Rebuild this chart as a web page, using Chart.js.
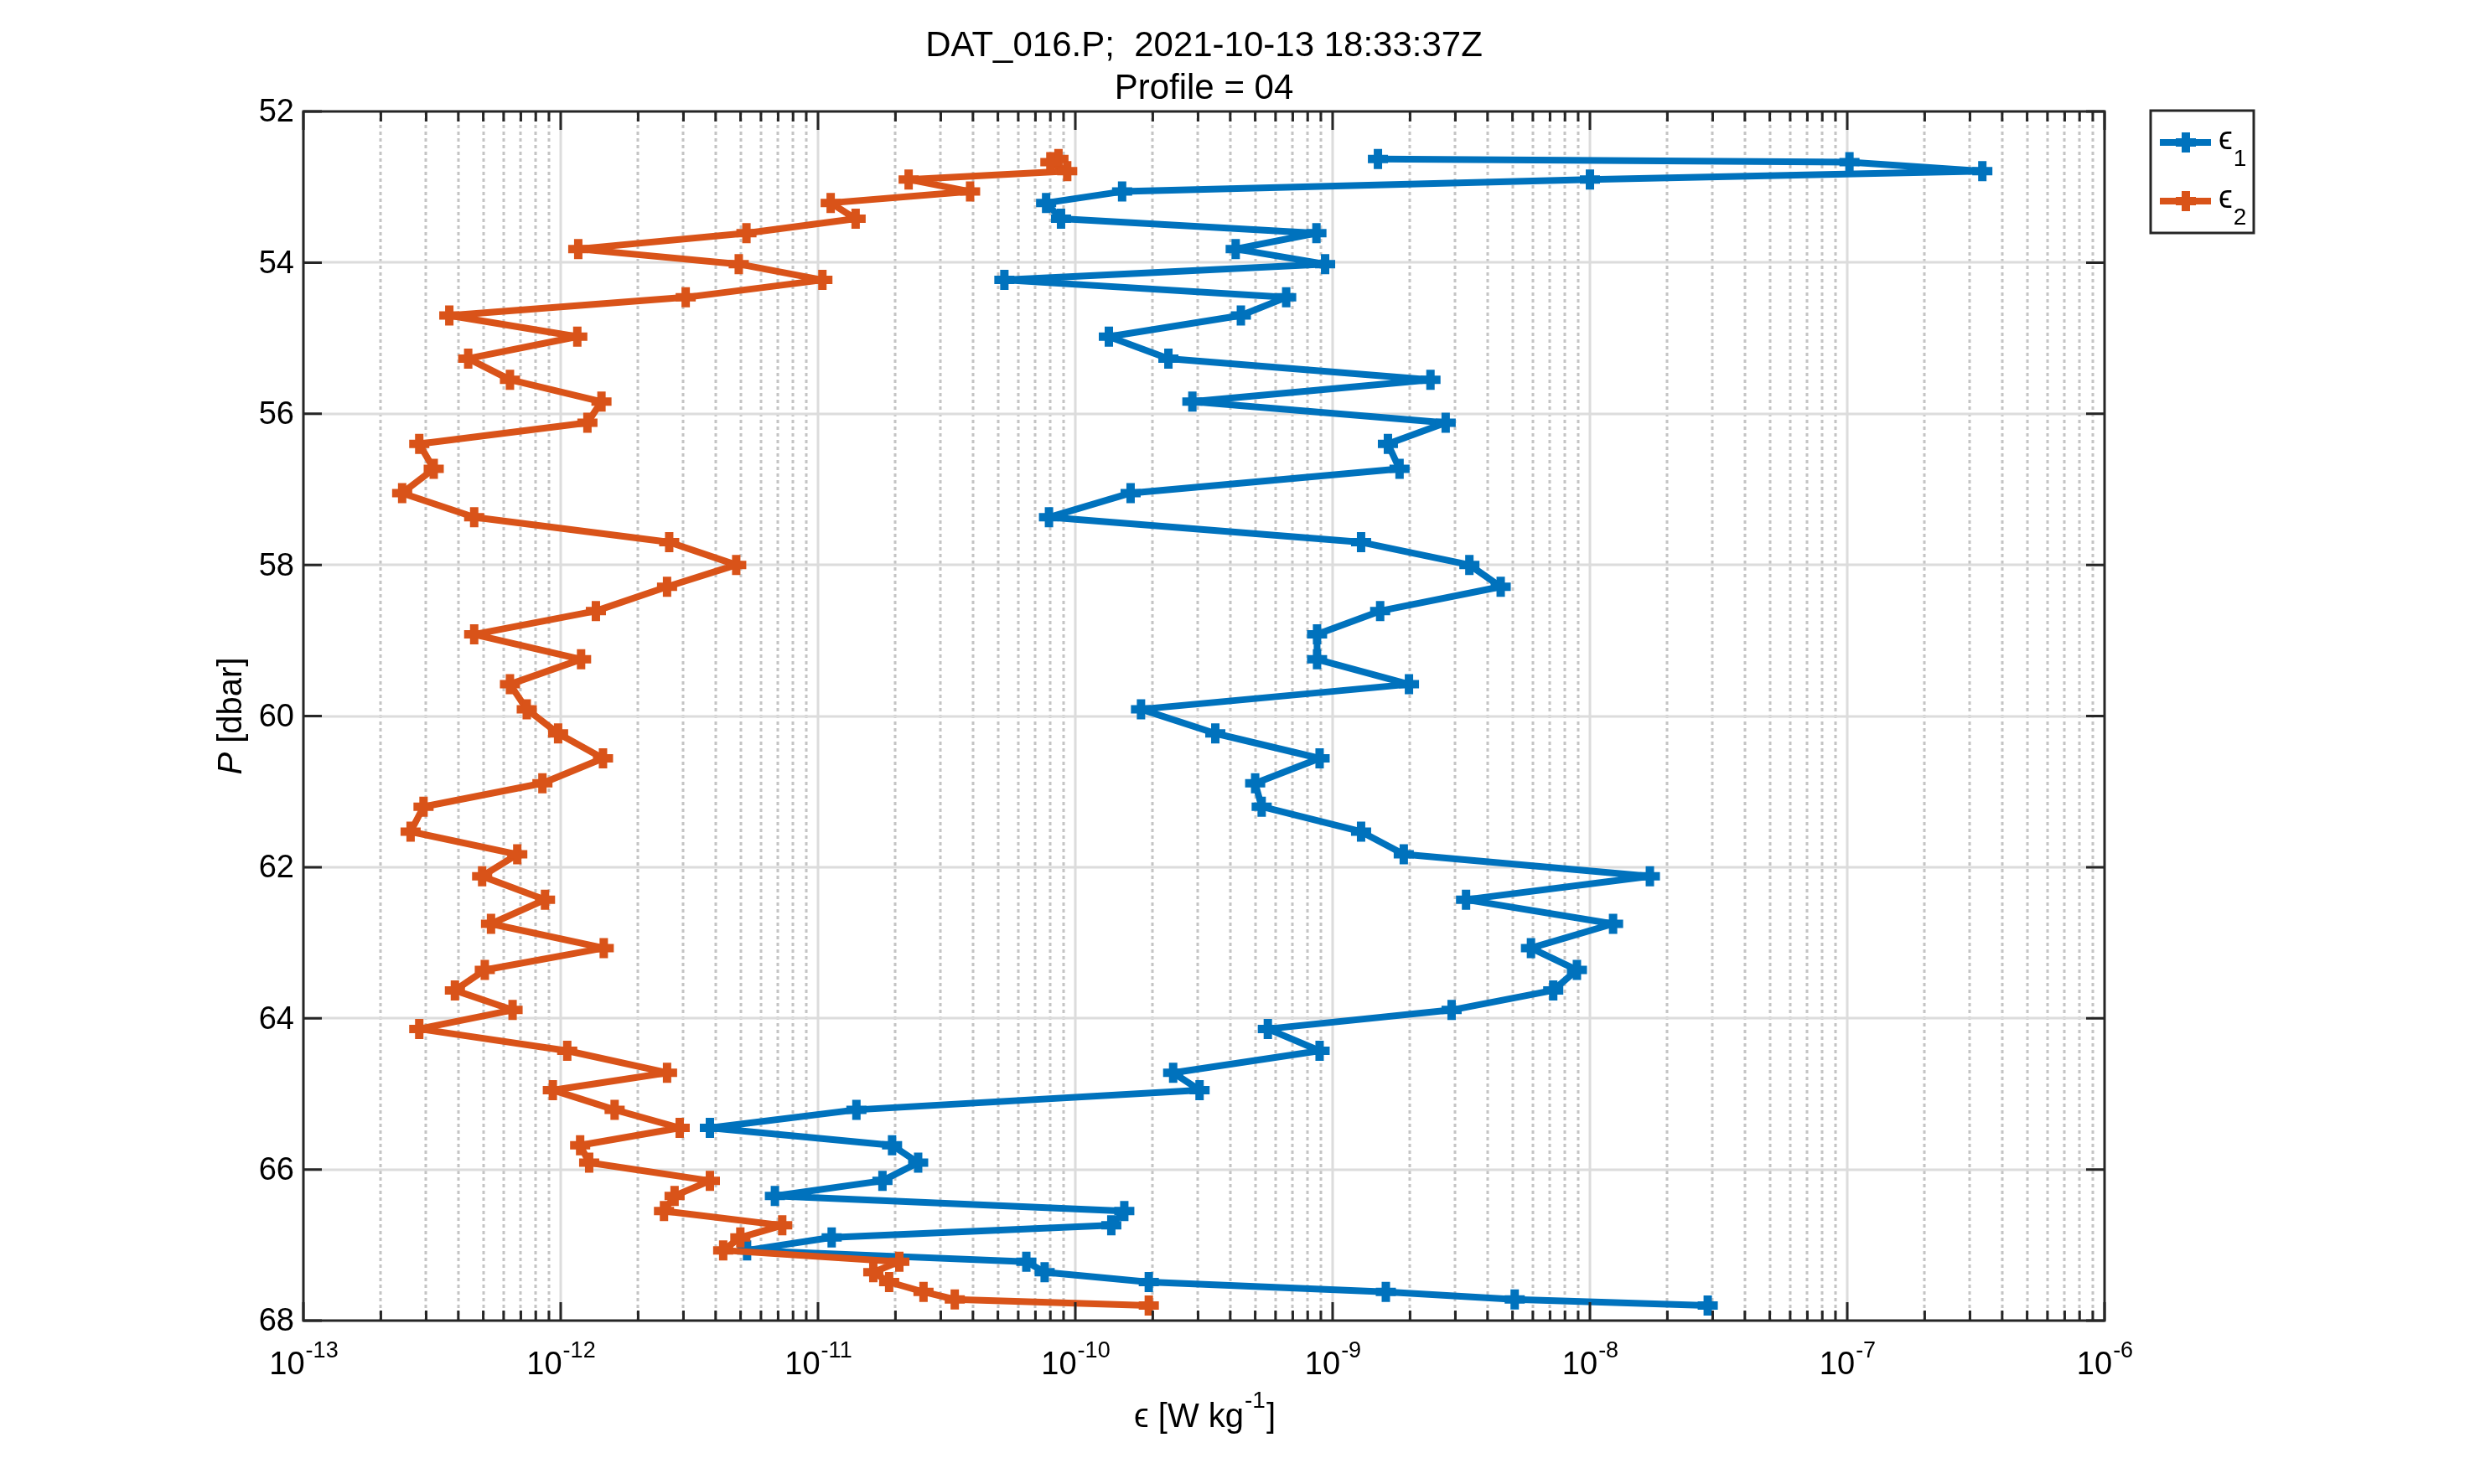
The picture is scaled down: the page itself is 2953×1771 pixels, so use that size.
<!DOCTYPE html>
<html><head><meta charset="utf-8">
<script src="https://cdn.jsdelivr.net/npm/chart.js@4.4.1/dist/chart.umd.min.js"></script>
<style>html,body{margin:0;padding:0;background:#fff;overflow:hidden}#wrap{width:2953px;height:1771px;position:relative}</style>
</head><body><div id="wrap"><canvas id="c" width="2953" height="1771"></canvas></div>
<script>
const pressure = [52.63,52.67,52.79,52.90,53.06,53.21,53.42,53.61,53.82,54.02,
  54.23,54.46,54.70,54.98,55.27,55.55,55.84,56.12,56.40,56.73,
  57.05,57.37,57.70,58.00,58.29,58.61,58.92,59.25,59.58,59.91,
  60.23,60.56,60.89,61.20,61.53,61.83,62.12,62.43,62.75,63.07,
  63.36,63.63,63.89,64.14,64.43,64.72,64.95,65.21,65.45,65.68,
  65.91,66.15,66.35,66.55,66.74,66.90,67.07,67.22,67.36,67.49,
  67.62,67.72,67.80];
const eps1 = [1.5e-9,1.02e-7,3.35e-7,1.0e-8,1.52e-10,7.7e-11,8.8e-11,8.65e-10,4.2e-10,9.35e-10,
  5.3e-11,6.6e-10,4.4e-10,1.35e-10,2.3e-10,2.4e-9,2.85e-10,2.75e-9,1.64e-9,1.82e-9,
  1.64e-10,7.9e-11,1.29e-9,3.4e-9,4.5e-9,1.53e-9,8.7e-10,8.7e-10,1.98e-9,1.8e-10,
  3.5e-10,8.9e-10,5.0e-10,5.3e-10,1.29e-9,1.89e-9,1.71e-8,3.3e-9,1.23e-8,5.9e-9,
  8.9e-9,7.2e-9,2.9e-9,5.6e-10,8.9e-10,2.4e-10,3.04e-10,1.41e-11,3.8e-12,1.94e-11,
  2.45e-11,1.78e-11,6.8e-12,1.55e-10,1.38e-10,1.13e-11,5.3e-12,6.45e-11,7.6e-11,1.93e-10,
  1.61e-9,5.1e-9,2.87e-8];
const eps2 = [8.6e-11,8.0e-11,9.3e-11,2.25e-11,3.9e-11,1.12e-11,1.40e-11,5.27e-12,1.17e-12,4.92e-12,
  1.04e-11,3.06e-12,3.69e-13,1.16e-12,4.37e-13,6.35e-13,1.44e-12,1.27e-12,2.82e-13,3.21e-13,
  2.42e-13,4.61e-13,2.64e-12,4.81e-12,2.59e-12,1.37e-12,4.61e-13,1.20e-12,6.35e-13,7.38e-13,
  9.77e-13,1.46e-12,8.49e-13,2.93e-13,2.61e-13,6.78e-13,4.95e-13,8.69e-13,5.36e-13,1.47e-12,
  5.07e-13,3.88e-13,6.50e-13,2.82e-13,1.06e-12,2.59e-12,9.32e-13,1.62e-12,2.90e-12,1.19e-12,
  1.29e-12,3.80e-12,2.77e-12,2.52e-12,7.26e-12,4.99e-12,4.28e-12,2.07e-11,1.64e-11,1.89e-11,
  2.57e-11,3.40e-11,1.93e-10];
const xTickExponents = [-13,-12,-11,-10,-9,-8,-7,-6];
const yTicks = [52,54,56,58,60,62,64,66,68];
const titleLines = ['DAT_016.P;  2021-10-13 18:33:37Z', 'Profile = 04'];
const seriesSymbol = '\u03F5';
const seriesSubscripts = ['1', '2'];
const seriesColors = ['#0072BD', '#D95319'];
const xLabelMain = '\u03F5 [W kg';
const xLabelSup = '-1';
const xLabelEnd = ']';
const yLabelItalic = 'P';
const yLabelRest = ' [dbar]';

const FONT = '"Liberation Sans", Arial, Helvetica, "DejaVu Sans", sans-serif';
const AX = '#262626';

function drawCross(ctx, x, y, r, w, color) {
  ctx.save(); ctx.strokeStyle = color; ctx.lineWidth = w; ctx.lineCap = 'butt';
  ctx.beginPath(); ctx.moveTo(x - r, y); ctx.lineTo(x + r, y); ctx.moveTo(x, y - r); ctx.lineTo(x, y + r); ctx.stroke();
  ctx.restore();
}

const gridPlugin = {
  id: 'matlabGrid',
  beforeDatasetsDraw(chart) {
    const ctx = chart.ctx, a = chart.chartArea, xs = chart.scales.x, ys = chart.scales.y;
    ctx.save();
    ctx.lineWidth = 3;
    ctx.strokeStyle = '#c4c4c4';
    ctx.setLineDash([4, 4]);
    for (let i = 0; i < xTickExponents.length - 1; i++) {
      for (let m = 2; m <= 9; m++) {
        const x = Math.round(xs.getPixelForValue(m * Math.pow(10, xTickExponents[i])));
        ctx.beginPath(); ctx.moveTo(x, a.top); ctx.lineTo(x, a.bottom); ctx.stroke();
      }
    }
    ctx.setLineDash([]);
    ctx.strokeStyle = '#dcdcdc';
    for (let i = 1; i < xTickExponents.length - 1; i++) {
      const x = Math.round(xs.getPixelForValue(Math.pow(10, xTickExponents[i])));
      ctx.beginPath(); ctx.moveTo(x, a.top); ctx.lineTo(x, a.bottom); ctx.stroke();
    }
    for (let i = 1; i < yTicks.length - 1; i++) {
      const y = Math.round(ys.getPixelForValue(yTicks[i]));
      ctx.beginPath(); ctx.moveTo(a.left, y); ctx.lineTo(a.right, y); ctx.stroke();
    }
    ctx.restore();
  },
  afterDatasetsDraw(chart) {
    const ctx = chart.ctx, a = chart.chartArea, xs = chart.scales.x, ys = chart.scales.y;
    ctx.save();
    ctx.strokeStyle = AX; ctx.lineWidth = 3;
    ctx.beginPath();
    for (let i = 0; i < xTickExponents.length; i++) {
      const x = xs.getPixelForValue(Math.pow(10, xTickExponents[i]));
      ctx.moveTo(x, a.bottom); ctx.lineTo(x, a.bottom - 22);
      ctx.moveTo(x, a.top); ctx.lineTo(x, a.top + 22);
      if (i < xTickExponents.length - 1) {
        for (let m = 2; m <= 9; m++) {
          const xm = xs.getPixelForValue(m * Math.pow(10, xTickExponents[i]));
          ctx.moveTo(xm, a.bottom); ctx.lineTo(xm, a.bottom - 12);
          ctx.moveTo(xm, a.top); ctx.lineTo(xm, a.top + 12);
        }
      }
    }
    for (const t of yTicks) {
      const y = ys.getPixelForValue(t);
      ctx.moveTo(a.left, y); ctx.lineTo(a.left + 22, y);
      ctx.moveTo(a.right, y); ctx.lineTo(a.right - 22, y);
    }
    ctx.stroke();
    ctx.strokeRect(a.left, a.top, a.right - a.left, a.bottom - a.top);

    ctx.fillStyle = '#000';
    for (const e of xTickExponents) {
      const x = xs.getPixelForValue(Math.pow(10, e));
      ctx.font = '38px ' + FONT;
      const w1 = ctx.measureText('10').width;
      ctx.font = '27px ' + FONT;
      const sup = String(e);
      const w2 = ctx.measureText(sup).width;
      const x0 = x - (w1 + w2) / 2;
      ctx.textAlign = 'left'; ctx.textBaseline = 'alphabetic';
      ctx.font = '38px ' + FONT; ctx.fillText('10', x0, a.bottom + 64);
      ctx.font = '27px ' + FONT; ctx.fillText(sup, x0 + w1 + 1, a.bottom + 44);
    }
    ctx.font = '38px ' + FONT; ctx.textAlign = 'right'; ctx.textBaseline = 'middle';
    for (const t of yTicks) ctx.fillText(String(t), a.left - 11, ys.getPixelForValue(t) + 2);

    const cx = (a.left + a.right) / 2;
    ctx.font = '42px ' + FONT; ctx.textAlign = 'center'; ctx.textBaseline = 'alphabetic';
    ctx.fillText(titleLines[0], cx, 67);
    ctx.fillText(titleLines[1], cx, 118);

    ctx.font = '40px ' + FONT;
    const wm = ctx.measureText(xLabelMain).width;
    const we = ctx.measureText(xLabelEnd).width;
    ctx.font = '28px ' + FONT;
    const ws = ctx.measureText(xLabelSup).width;
    let lx = cx - (wm + ws + we) / 2;
    ctx.textAlign = 'left';
    ctx.font = '40px ' + FONT; ctx.fillText(xLabelMain, lx, a.bottom + 127);
    ctx.font = '28px ' + FONT; ctx.fillText(xLabelSup, lx + wm + 1, a.bottom + 104);
    ctx.font = '40px ' + FONT; ctx.fillText(xLabelEnd, lx + wm + ws + 2, a.bottom + 127);

    ctx.save();
    ctx.translate(a.left - 74, (a.top + a.bottom) / 2);
    ctx.rotate(-Math.PI / 2);
    ctx.font = 'italic 40px ' + FONT;
    const wp = ctx.measureText(yLabelItalic).width;
    ctx.font = '40px ' + FONT;
    const wr = ctx.measureText(yLabelRest).width;
    ctx.textAlign = 'left';
    ctx.font = 'italic 40px ' + FONT; ctx.fillText(yLabelItalic, -(wp + wr) / 2, 0);
    ctx.font = '40px ' + FONT; ctx.fillText(yLabelRest, -(wp + wr) / 2 + wp, 0);
    ctx.restore();

    const lb = { l: 2566, t: 132, w: 123, h: 146 };
    ctx.fillStyle = '#fff'; ctx.fillRect(lb.l, lb.t, lb.w, lb.h);
    ctx.strokeStyle = AX; ctx.lineWidth = 3; ctx.strokeRect(lb.l, lb.t, lb.w, lb.h);
    const itemY = [170, 240];
    for (let i = 0; i < 2; i++) {
      const y = itemY[i];
      ctx.strokeStyle = seriesColors[i]; ctx.lineWidth = 8;
      ctx.beginPath(); ctx.moveTo(lb.l + 11, y); ctx.lineTo(lb.l + 72, y); ctx.stroke();
      drawCross(ctx, lb.l + 42, y, 12, 10, seriesColors[i]);
      ctx.fillStyle = '#000'; ctx.textAlign = 'left';
      ctx.font = '38px ' + FONT; ctx.fillText(seriesSymbol, lb.l + 81, y + 8);
      const ws2 = ctx.measureText(seriesSymbol).width;
      ctx.font = '28px ' + FONT; ctx.fillText(seriesSubscripts[i], lb.l + 81 + ws2 + 1, y + 28);
    }
    ctx.restore();
  }
};

const mkData = (vals) => pressure.map((p, i) => ({ x: vals[i], y: p }));

new Chart(document.getElementById('c'), {
  type: 'scatter',
  data: {
    datasets: [
      { label: '\u03F5\u2081', data: mkData(eps1), showLine: true, borderColor: seriesColors[0], backgroundColor: seriesColors[0],
        borderWidth: 8, borderJoinStyle: 'round', tension: 0, pointStyle: 'cross', pointRadius: 12, pointHoverRadius: 12, pointBorderWidth: 10, pointHoverBorderWidth: 10, order: 1 },
      { label: '\u03F5\u2082', data: mkData(eps2), showLine: true, borderColor: seriesColors[1], backgroundColor: seriesColors[1],
        borderWidth: 8, borderJoinStyle: 'round', tension: 0, pointStyle: 'cross', pointRadius: 12, pointHoverRadius: 12, pointBorderWidth: 10, pointHoverBorderWidth: 10, order: 0 }
    ]
  },
  options: {
    responsive: false, animation: false, devicePixelRatio: 1,
    events: [],
    layout: { autoPadding: false, padding: { left: 362, right: 2953 - 2511, top: 133, bottom: 1771 - 1576 } },
    plugins: { legend: { display: false }, title: { display: false }, tooltip: { enabled: false } },
    scales: {
      x: { type: 'logarithmic', min: 1e-13, max: 1e-6, ticks: { display: false }, grid: { display: false }, border: { display: false },
           afterFit(s) { s.height = 0; } },
      y: { type: 'linear', reverse: true, min: 52, max: 68, ticks: { display: false, stepSize: 2 }, grid: { display: false }, border: { display: false },
           afterFit(s) { s.width = 0; } }
    }
  },
  plugins: [gridPlugin]
});
</script>
</body></html>
